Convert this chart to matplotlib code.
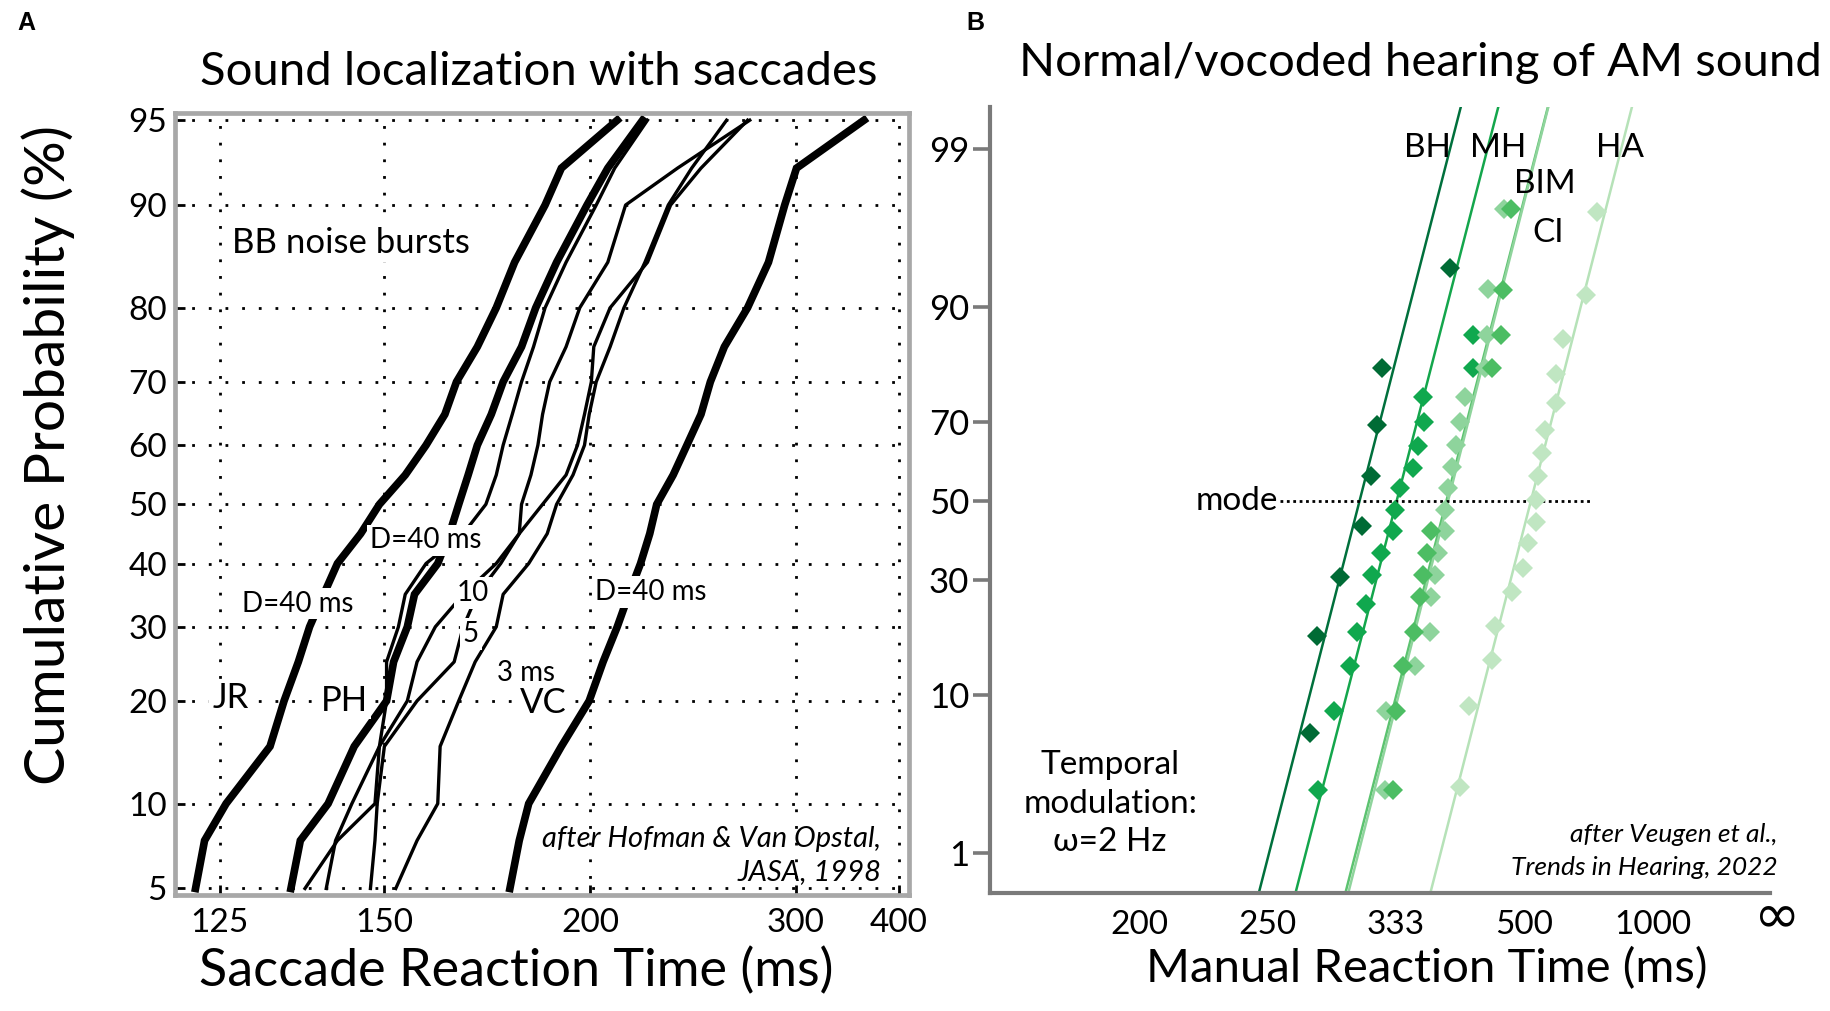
import matplotlib
matplotlib.use("Agg")
import matplotlib.pyplot as plt
import numpy as np
from statistics import NormalDist

plt.rcParams['font.family'] = ['Lato', 'DejaVu Sans']

# ---------------- panel A: saccade reaction times (cumulative, reciprobit) ----------------
cum_levels = [5, 7.5, 10, 15, 20, 25, 30, 35, 40, 45, 50, 55, 60, 65, 70, 75, 80, 85, 90, 92.5, 95]

jr_40 = [122.0, 123.1, 125.8, 131.7, 133.7, 135.8, 137.5, 139.7, 141.9, 145.8, 149.1,
         153.9, 158.0, 161.9, 164.4, 169.1, 173.6, 178.2, 186.4, 191.1, 209.2]
ph_40 = [134.7, 136.1, 140.4, 144.7, 150.4, 151.7, 154.3, 155.7, 160.4, 162.9, 164.9,
         167.0, 169.1, 172.4, 175.3, 180.0, 183.8, 189.7, 199.0, 205.9, 218.6]
ph_10 = [136.8, 141.9, 148.3, 149.1, 150.4, 150.4, 152.6, 153.9, 158.0, 165.9, 171.1,
         173.6, 175.3, 177.6, 180.0, 183.2, 186.4, 192.5, 202.0, 208.3, 220.5]
ph_5 = [140.1, 141.6, 144.3, 149.1, 154.3, 156.2, 159.9, 165.9, 173.6, 179.4, 180.0,
        182.5, 184.4, 185.7, 187.7, 192.5, 196.7, 205.9, 212.2, 233.0, 269.8]
ph_3 = [152.1, 156.2, 160.4, 160.9, 164.9, 168.6, 173.6, 175.3, 181.9, 187.0, 189.7,
        194.6, 198.2, 199.7, 202.0, 206.7, 211.6, 219.5, 229.0, 239.4, 256.8]
ph_other = [147.5, 148.3, 148.7, 150.0, 156.2, 163.9, 165.9, 169.1, 174.7, 179.4, 185.7,
            192.5, 196.0, 198.2, 200.4, 201.2, 206.7, 220.5, 230.0, 243.8, 268.5]
vc_40 = [177.0, 179.4, 181.9, 191.1, 199.7, 204.3, 209.2, 213.4, 217.8, 221.4, 224.2,
         231.1, 237.2, 243.8, 248.4, 255.6, 268.5, 281.3, 292.1, 300.5, 359.6]

thick_curves = [jr_40, ph_40, vc_40]
thin_curves = [ph_10, ph_5, ph_3, ph_other]

a_xticks = [125, 150, 200, 300, 400]
a_yticks = [5, 10, 20, 30, 40, 50, 60, 70, 80, 90, 95]

# ---------------- panel B: manual reaction times ----------------
bh_rt = [272.5, 276.3, 290.9, 306.3, 313.0, 317.4, 321.9, 387.6]
bh_pct = [6.2, 18.5, 30.8, 43.5, 56.4, 69.2, 81.1, 93.8]

mh_rt = [277.2, 287.0, 297.9, 302.7, 309.2, 314.0, 320.5, 331.0, 332.4, 336.8, 349.0,
         353.9, 359.7, 358.7, 417.2, 417.2]
mh_pct = [2.8, 8.2, 13.7, 19.3, 24.7, 31.2, 36.6, 42.0, 47.5, 53.3, 58.6, 64.2, 70.0,
          75.4, 81.0, 86.4]

bim_rt = [330.9, 333.0, 339.6, 350.1, 355.4, 358.7, 362.1, 366.2, 443.5, 458.5, 461.9, 476.2]
bim_pct = [2.8, 8.2, 13.7, 19.3, 26.3, 31.2, 36.6, 42.0, 81.0, 86.4, 91.8, 97.3]

ci_rt = [323.9, 324.7, 351.1, 365.9, 366.7, 370.4, 374.4, 381.8, 381.8, 385.7, 389.6,
         394.3, 399.5, 405.8, 433.1, 436.5, 438.2, 464.1]
ci_pct = [2.8, 8.2, 13.7, 19.3, 26.3, 31.2, 36.6, 42.0, 47.6, 53.5, 58.9, 64.4, 69.9,
          75.4, 81.0, 86.4, 91.9, 97.3]

ha_rt = [399.7, 411.2, 444.2, 448.0, 477.4, 497.6, 507.6, 524.9, 524.9, 528.3, 537.3,
         543.2, 571.4, 571.4, 588.2, 658.8, 696.4]
ha_pct = [2.9, 8.7, 14.6, 20.3, 27.4, 32.8, 39.0, 44.3, 50.2, 56.4, 62.4, 68.1, 74.1,
          80.0, 85.7, 91.3, 97.2]

# fitted reciprobit lines: RT at 50% and slope (1/s per probit unit)
fit_names = ['BH', 'MH', 'BIM', 'CI', 'HA']
fit_mode_rt = [304.5, 333.9, 383.6, 385.5, 513.3]
fit_slope = [0.3029, 0.3041, 0.3037, 0.300, 0.3023]
fit_colors = ['#00703c', '#14a64c', '#5cc370', '#8fd49c', '#b6e2b8']

mode_line_rt = [256, 679]

b_xticks = [200, 250, 1000 / 3, 500, 1000]
b_xlabels = ['200', '250', '333', '500', '1000']
b_yticks = [1, 10, 30, 50, 70, 90, 99]

nd = NormalDist()
_ppf = np.vectorize(lambda v: nd.inv_cdf(v), otypes=[float])
_cdf = np.vectorize(lambda v: nd.cdf(v), otypes=[float])


def probit(p):
    p = np.clip(np.asarray(p, dtype=float) / 100.0, 1e-9, 1 - 1e-9)
    return _ppf(p)


def unprobit(z):
    return _cdf(np.asarray(z, dtype=float)) * 100.0


def recip(v):
    with np.errstate(divide='ignore'):
        return -1000.0 / np.asarray(v, dtype=float)


fig = plt.figure(figsize=(18.31, 10.11), dpi=100)

# ======================= A =======================
ax1 = fig.add_axes([0.0957, 0.1143, 0.4005, 0.7737])
ax1.set_xscale('function', functions=(recip, recip))
ax1.set_yscale('function', functions=(probit, unprobit))
ax1.set_xlim(119.6, 413.2)
ax1.set_ylim(4.70, 95.30)

for c in thick_curves:
    ax1.plot(c, cum_levels, color='k', lw=5.5, zorder=2, solid_joinstyle='miter')
for c in thin_curves:
    ax1.plot(c, cum_levels, color='k', lw=2.4, zorder=2)

ax1.set_xticks(a_xticks)
ax1.set_xticklabels([str(t) for t in a_xticks])
ax1.set_yticks(a_yticks)
ax1.set_yticklabels([str(t) for t in a_yticks])
ax1.xaxis.set_minor_locator(matplotlib.ticker.NullLocator())
ax1.yaxis.set_minor_locator(matplotlib.ticker.NullLocator())
ax1.grid(True, color='k', linestyle=(0, (1, 5)), linewidth=2)
ax1.tick_params(direction='in', length=7, width=2, color='k', labelsize=24)
ax1.tick_params(axis='x', pad=9)
ax1.tick_params(axis='y', pad=6)
for s in ax1.spines.values():
    s.set_color('#a8a8a8')
    s.set_linewidth(3.4)

box = dict(facecolor='white', edgecolor='none', pad=2)
ax1.text(0.239, 0.834, 'BB noise bursts', transform=ax1.transAxes, fontsize=25,
         ha='center', va='center', bbox=box, zorder=5)
for (tx, ty, s) in [(0.167, 0.373, 'D=40 ms'), (0.342, 0.454, 'D=40 ms'),
                    (0.648, 0.388, 'D=40 ms'), (0.406, 0.387, '10'),
                    (0.403, 0.334, '5'), (0.478, 0.284, '3 ms')]:
    ax1.text(tx, ty, s, transform=ax1.transAxes, fontsize=20, ha='center',
             va='center', bbox=box, zorder=5)
for (tx, ty, s) in [(0.075, 0.252, 'JR'), (0.231, 0.249, 'PH'), (0.502, 0.246, 'VC')]:
    ax1.text(tx, ty, s, transform=ax1.transAxes, fontsize=25, ha='center',
             va='center', bbox=box, zorder=5)
ax1.text(0.963, 0.072, 'after Hofman & Van Opstal,', transform=ax1.transAxes,
         fontsize=21, style='italic', ha='right', va='center', zorder=5)
ax1.text(0.963, 0.030, 'JASA, 1998', transform=ax1.transAxes,
         fontsize=21, style='italic', ha='right', va='center', zorder=5)

# ======================= B =======================
ax2 = fig.add_axes([0.5407, 0.1166, 0.4319, 0.7772])
ax2.set_xscale('function', functions=(recip, recip))
ax2.set_yscale('function', functions=(probit, unprobit))
ax2.set_xlim(162.2, 1e12)
ax2.set_ylim(0.473, 99.537)

zz = np.array([-2.8, 2.8])
for m, k, col in zip(fit_mode_rt, fit_slope, fit_colors):
    rate = 1000.0 / m - k * zz
    ax2.plot(1000.0 / rate, unprobit(zz), color=col, lw=1.8, zorder=2)

ax2.plot(mode_line_rt, [50, 50], color='k', lw=2, linestyle=(0, (1, 1.3)), zorder=2)

mk = dict(marker='D', linestyle='none', markersize=10, markeredgewidth=0, zorder=3)
ax2.plot(bh_rt, bh_pct, color='#006b35', **mk)
ax2.plot(mh_rt, mh_pct, color='#10a84e', **mk)
ax2.plot(ci_rt, ci_pct, color='#8ed49c', **mk)
ax2.plot(bim_rt, bim_pct, color='#4cbd63', **mk)
ax2.plot(ha_rt, ha_pct, color='#c0e6c2', **mk)

ax2.set_xticks(b_xticks)
ax2.set_xticklabels(b_xlabels)
ax2.set_yticks(b_yticks)
ax2.set_yticklabels([str(t) for t in b_yticks])
ax2.xaxis.set_minor_locator(matplotlib.ticker.NullLocator())
ax2.yaxis.set_minor_locator(matplotlib.ticker.NullLocator())
ax2.tick_params(axis='y', which='major', direction='out', length=12, width=2.6,
                color='#7a7a7a', labelsize=25, pad=3)
ax2.tick_params(axis='x', length=0, labelsize=24, pad=12)
ax2.spines['top'].set_visible(False)
ax2.spines['right'].set_visible(False)
for s in ['left', 'bottom']:
    ax2.spines[s].set_color('#7a7a7a')
    ax2.spines[s].set_linewidth(3)
ax2.spines['bottom'].set_bounds(162.2, 12200.0)
ax2.text(0.9956, -0.031, '∞', transform=ax2.transAxes, fontsize=40,
         family='DejaVu Sans', ha='center', va='center')

for (tx, ty, s) in [(0.553, 0.948, 'BH'), (0.643, 0.948, 'MH'), (0.701, 0.902, 'BIM'),
                    (0.706, 0.840, 'CI'), (0.796, 0.948, 'HA')]:
    ax2.text(tx, ty, s, transform=ax2.transAxes, fontsize=24, ha='center', va='center')
ax2.text(0.364, 0.499, 'mode', transform=ax2.transAxes, fontsize=24, ha='right', va='center')
ax2.text(0.152, 0.114, 'Temporal\nmodulation:\nω=2 Hz', transform=ax2.transAxes,
         fontsize=24, ha='center', va='center', linespacing=1.35)
ax2.text(0.9956, 0.074, 'after Veugen et al.,', transform=ax2.transAxes, fontsize=19,
         style='italic', ha='right', va='center')
ax2.text(0.9956, 0.033, 'Trends in Hearing, 2022', transform=ax2.transAxes, fontsize=19,
         style='italic', ha='right', va='center')

# ---------------- figure level text ----------------
fig.text(0.0096, 0.977, 'A', fontsize=18, fontweight='bold', family='Liberation Sans',
         ha='left', va='center')
fig.text(0.528, 0.977, 'B', fontsize=18, fontweight='bold', family='Liberation Sans',
         ha='left', va='center')
fig.text(0.294, 0.929, 'Sound localization with saccades', ha='center', va='center', fontsize=34)
fig.text(0.7755, 0.9375, 'Normal/vocoded hearing of AM sound', ha='center', va='center',
         fontsize=34)
fig.text(0.0265, 0.5497, 'Cumulative Probability (%)', rotation=90, ha='center',
         va='center', fontsize=41)
fig.text(0.2819, 0.0393, 'Saccade Reaction Time (ms)', ha='center', va='center', fontsize=37.5)
fig.text(0.7793, 0.0416, 'Manual Reaction Time (ms)', ha='center', va='center', fontsize=34)

fig.savefig('out.png', dpi=100)
